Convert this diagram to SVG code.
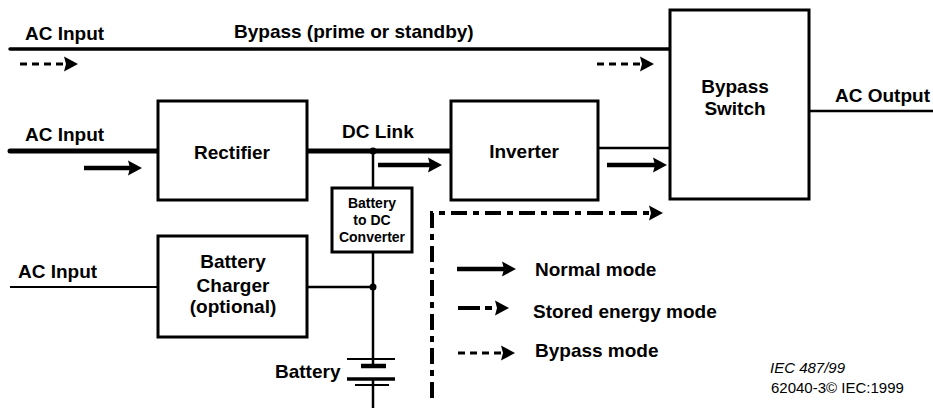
<svg xmlns="http://www.w3.org/2000/svg" width="933" height="408" viewBox="0 0 933 408">
<defs>
<style>
text{font-family:"Liberation Sans",Arial,sans-serif;font-weight:bold;font-size:19px;fill:#000}
.sm{font-size:14px}
.iec{font-weight:normal;font-size:15px}
.box{fill:#fff;stroke:#000;stroke-width:3}
.w{fill:none;stroke:#000}
</style>
<marker id="ah" markerUnits="userSpaceOnUse" markerWidth="16" markerHeight="16" viewBox="0 -8 14 16" refX="2" refY="0" orient="auto">
<path d="M0,-7.5 L14,0 L0,7.5 L2,0 z" fill="#000"/>
</marker>
</defs>
<rect width="933" height="408" fill="#fff"/>
<g id="connectors">
<line class="w" x1="10" y1="49" x2="672" y2="49" stroke-width="3.5" stroke-linecap="round"/>
<line class="w" x1="10" y1="151" x2="453" y2="151" stroke-width="5" stroke-linecap="round"/>
<line class="w" x1="598" y1="148" x2="672" y2="148" stroke-width="2.5"/>
<line class="w" x1="809" y1="111" x2="933" y2="111" stroke-width="2.5"/>
<line class="w" x1="10" y1="287" x2="158" y2="287" stroke-width="2"/>
<line class="w" x1="307" y1="287" x2="373" y2="287" stroke-width="2.5"/>
<line class="w" x1="373" y1="151" x2="373" y2="188" stroke-width="2.5"/>
<line class="w" x1="373" y1="252" x2="373" y2="366" stroke-width="2.5"/>
<line class="w" x1="373" y1="379" x2="373" y2="408" stroke-width="2.5"/>
<circle cx="373" cy="151" r="3.5"/>
<circle cx="373" cy="287" r="3.5"/>
<g id="battery-symbol" class="w">
<line x1="347" y1="359" x2="395" y2="359" stroke-width="2"/>
<line x1="361" y1="366" x2="386" y2="366" stroke-width="4.5"/>
<line x1="347" y1="379" x2="395" y2="379" stroke-width="3.5"/>
<line x1="355" y1="385" x2="389" y2="385" stroke-width="2"/>
</g>
<!-- flow arrows -->
<line class="w" x1="20" y1="64" x2="66" y2="64" stroke-width="3" stroke-dasharray="7 5" marker-end="url(#ah)"/>
<line class="w" x1="597" y1="64" x2="642" y2="64" stroke-width="3" stroke-dasharray="7 5" marker-end="url(#ah)"/>
<line class="w" x1="84" y1="168" x2="130" y2="168" stroke-width="4.5" marker-end="url(#ah)"/>
<line class="w" x1="378" y1="165" x2="430" y2="165" stroke-width="4.5" marker-end="url(#ah)"/>
<line class="w" x1="607" y1="165" x2="655" y2="165" stroke-width="4.5" marker-end="url(#ah)"/>
<path class="w" d="M432,398 L432,213 L651,213" stroke-width="4" stroke-dasharray="16 6 6 6" marker-end="url(#ah)"/>
</g>
<g id="bypass-switch">
<rect class="box" x="670" y="10" width="139" height="189"/>
<text x="735" y="93" text-anchor="middle">Bypass</text>
<text x="735" y="115" text-anchor="middle">Switch</text>
</g>
<g id="rectifier">
<rect class="box" x="158" y="101" width="149" height="99"/>
<text x="232" y="159" text-anchor="middle">Rectifier</text>
</g>
<g id="inverter">
<rect class="box" x="451" y="101" width="147" height="99"/>
<text x="524" y="158" text-anchor="middle">Inverter</text>
</g>
<g id="battery-dc-converter">
<rect class="box" x="332" y="188" width="80" height="64" stroke-width="2.5"/>
<text class="sm" x="372" y="208" text-anchor="middle">Battery</text>
<text class="sm" x="372" y="225" text-anchor="middle">to DC</text>
<text class="sm" x="372" y="242" text-anchor="middle">Converter</text>
</g>
<g id="battery-charger">
<rect class="box" x="158" y="236" width="149" height="101"/>
<text x="233" y="268" text-anchor="middle">Battery</text>
<text x="233" y="292" text-anchor="middle">Charger</text>
<text x="233" y="313" text-anchor="middle">(optional)</text>
</g>
<g id="labels">
<text x="25" y="40">AC Input</text>
<text x="234" y="38">Bypass (prime or standby)</text>
<text x="25" y="141">AC Input</text>
<text x="342" y="138">DC Link</text>
<text x="835" y="102">AC Output</text>
<text x="18" y="278">AC Input</text>
<text x="275" y="378">Battery</text>
</g>
<g id="legend">
<line class="w" x1="457" y1="269" x2="504" y2="269" stroke-width="4.5" marker-end="url(#ah)"/>
<text x="535" y="276">Normal mode</text>
<line class="w" x1="458" y1="308" x2="497" y2="308" stroke-width="4" stroke-dasharray="22 5 7 5" marker-end="url(#ah)"/>
<text x="533" y="318">Stored energy mode</text>
<line class="w" x1="458" y1="353" x2="503" y2="353" stroke-width="3" stroke-dasharray="7 5" marker-end="url(#ah)"/>
<text x="535" y="357">Bypass mode</text>
<text class="iec" x="770" y="373" font-style="italic">IEC 487/99</text>
<text class="iec" x="771" y="393">62040-3© IEC:1999</text>
</g>
</svg>
